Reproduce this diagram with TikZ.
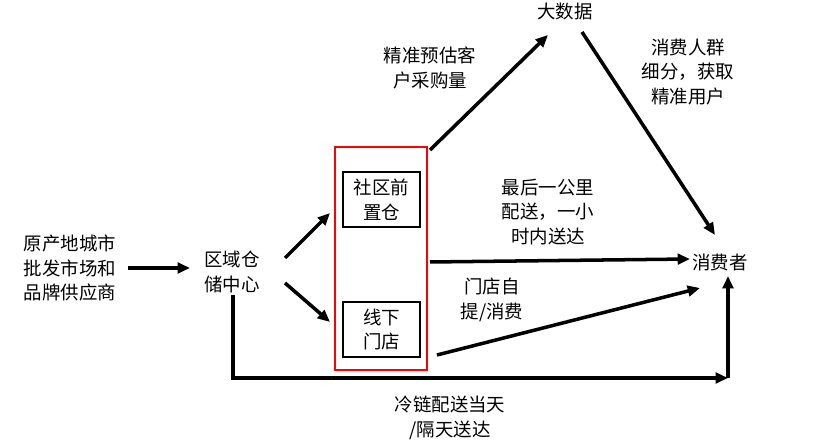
\documentclass[tikz,border=0pt]{standalone}
\usepackage{fontspec}
\newfontfamily\cjk{Noto Sans CJK SC}
\usetikzlibrary{arrows.meta}
\begin{document}
\begin{tikzpicture}[x=0.02cm,y=-0.02cm,
 lbl/.style={font=\cjk\fontsize{10.5}{14}\selectfont,align=center,inner sep=1pt},
 arr/.style={line width=2pt,-{Triangle[length=7pt,width=6pt]}},
 box/.style={draw,line width=0.6pt,minimum width=1.54cm,minimum height=1.1cm,lbl}]
\useasboundingbox (0,0) rectangle (826,448);
\node[lbl] (src) at (70,268) {原产地城市\\批发市场和\\品牌供应商};
\node[lbl] (rdc) at (232,272) {区域仓\\储中心};
\draw[red,line width=1.2pt] (335,147) rectangle (427,370);
\node[box] (fw) at (381.5,199.5) {社区前\\置仓};
\node[box] (st) at (381.5,329.5) {线下\\门店};
\node[lbl] (bd) at (565,12) {大数据};
\node[lbl] (cs) at (720,262) {消费者};
\coordinate (a1) at (128,268); \coordinate (a2) at (190,268);
\draw[arr] (a1) -- (a2);
\coordinate (r1) at (285,258); \coordinate (r2) at (330,213);
\coordinate (r3) at (285,283); \coordinate (r4) at (330,322);
\draw[arr] (r1) -- (r2);
\draw[arr] (r3) -- (r4);
\coordinate (b1) at (430,150); \coordinate (b2) at (548,35);
\draw[arr] (b1) -- (b2);
\coordinate (c1) at (582,32); \coordinate (c2) at (715,235);
\draw[arr] (c1) -- (c2);
\coordinate (d1) at (430,262); \coordinate (d2) at (690,259);
\draw[arr] (d1) -- (d2);
\coordinate (e1) at (437,355); \coordinate (e2) at (700,288);
\draw[arr] (e1) -- (e2);
\coordinate (f1) at (233,295); \coordinate (f2) at (728,378); \coordinate (f3) at (728,276);
\draw[arr] (f1) |- (f2);
\draw[arr] (f2) -- (f3);
\node[lbl] at (430,68) {精准预估客\\户采购量};
\node[lbl] at (688,72) {消费人群\\细分，获取\\精准用户};
\node[lbl] at (548,212) {最后一公里\\配送，一小\\时内送达};
\node[lbl] at (492,300) {门店自\\提/消费};
\node[lbl] at (450,418) {冷链配送当天\\/隔天送达};
\end{tikzpicture}
\end{document}
